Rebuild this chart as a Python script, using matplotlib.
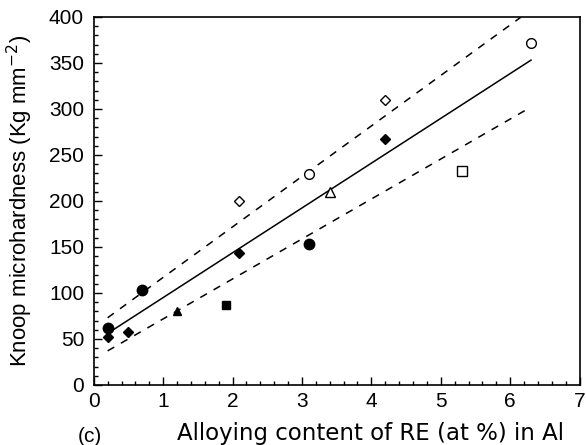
import matplotlib
matplotlib.use("Agg")
import matplotlib.pyplot as plt
from matplotlib.ticker import MultipleLocator

plt.rcParams["font.family"] = ["Liberation Sans", "DejaVu Sans"]

# measured points, grouped by marker
filled_circle_x = [0.2, 0.7, 3.1]
filled_circle_y = [62, 103, 153]
filled_diamond_x = [0.2, 0.5, 2.1, 4.2]
filled_diamond_y = [52, 58, 143, 267]
filled_triangle_x = [1.2]
filled_triangle_y = [80]
filled_square_x = [1.9]
filled_square_y = [87]
open_diamond_x = [2.1, 4.2]
open_diamond_y = [200, 310]
open_circle_x = [3.1, 6.3]
open_circle_y = [229, 372]
open_triangle_x = [3.4]
open_triangle_y = [210]
open_square_x = [5.3]
open_square_y = [232]

# fit line and scatter band (end points)
fit_x = [0.2, 6.3]
fit_y = [56, 353]
upper_x = [0.2, 6.16]
upper_y = [73, 400]
lower_x = [0.2, 6.3]
lower_y = [37, 302]

fig = plt.figure(figsize=(5.86, 4.45), dpi=100)
ax = fig.add_axes([0.160, 0.135, 0.829, 0.827])

ax.plot(fit_x, fit_y, color="black", lw=1.1)
ax.plot(upper_x, upper_y, color="black", lw=1.1, ls=(0, (5, 5)))
ax.plot(lower_x, lower_y, color="black", lw=1.1, ls=(0, (5, 5)))

ax.plot(filled_circle_x, filled_circle_y, "o", color="black", ms=7.5)
ax.plot(filled_diamond_x, filled_diamond_y, "D", color="black", ms=5)
ax.plot(filled_triangle_x, filled_triangle_y, "^", color="black", ms=6)
ax.plot(filled_square_x, filled_square_y, "s", color="black", ms=6)
ax.plot(open_diamond_x, open_diamond_y, "D", mfc="white", mec="black", mew=1, ms=5)
ax.plot(open_circle_x, open_circle_y, "o", mfc="white", mec="black", mew=1, ms=7)
ax.plot(open_triangle_x, open_triangle_y, "^", mfc="white", mec="black", mew=1, ms=7)
ax.plot(open_square_x, open_square_y, "s", mfc="white", mec="black", mew=1, ms=6.5)

ax.set_xlim(0, 7)
ax.set_ylim(0, 400)
ax.xaxis.set_major_locator(MultipleLocator(1))
ax.xaxis.set_minor_locator(MultipleLocator(0.2))
ax.yaxis.set_major_locator(MultipleLocator(50))
ax.yaxis.set_minor_locator(MultipleLocator(10))
ax.tick_params(which="both", direction="in", labelsize=15, width=1)
ax.tick_params(which="major", length=6, pad=5)
ax.tick_params(axis="y", which="major", pad=7)
ax.tick_params(which="minor", length=3)
for s in ax.spines.values():
    s.set_linewidth(1.2)

ax.set_ylabel("Knoop microhardness (Kg mm$^{-2}$)", fontsize=16)
ax.yaxis.set_label_coords(-0.121, 0.5)
ax.set_xlabel("Alloying content of RE (at %) in Al", fontsize=16.5,
              family="DejaVu Sans")
ax.xaxis.set_label_coords(0.57, -0.1)
fig.text(0.133, 0.007, "(c)", fontsize=15, va="baseline")

fig.savefig("out.png", dpi=100)
